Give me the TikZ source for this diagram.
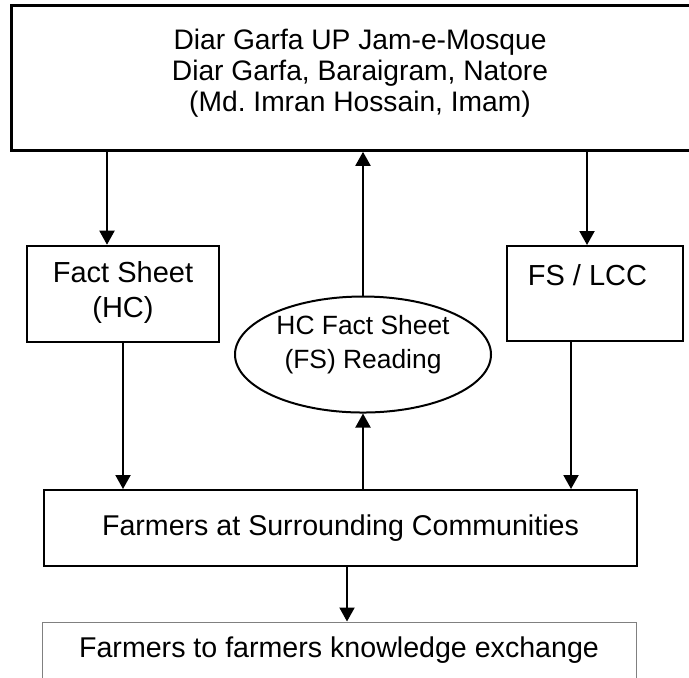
\documentclass[tikz,border=0pt]{standalone}
\usepackage{fontspec}
\setmainfont{Liberation Sans}
\usetikzlibrary{arrows.meta,shapes.geometric}

\tikzset{
  box/.style={draw, line width=1pt, inner sep=0pt},
  txt/.style={font=\fontsize{14.3}{16}\selectfont, align=center},
  oval/.style={draw, ellipse, line width=1pt, inner sep=0pt},
  arr/.style={line width=1pt, -{Triangle[length=7pt,width=7.5pt]}}
}

\begin{document}
\begin{tikzpicture}[x=0.5pt,y=-0.5pt]
  \useasboundingbox (0,0) rectangle (689,677);
  \begin{scope}
  \clip (0,0) rectangle (689,677);
  % top box (right side runs off the page)
  \node[box, line width=1.5pt, minimum width=349pt, minimum height=72.5pt] (mosque) at (360,77.8) {};
  \node[txt, font=\fontsize{14.1}{15.4}\selectfont] (mosquetxt) at (360,73) {Diar Garfa UP Jam-e-Mosque\\Diar Garfa, Baraigram, Natore\\(Md.\ Imran Hossain, Imam)};
  % middle row
  \node[box, minimum width=96pt, minimum height=48pt] (fact) at (123,293.7) {};
  \node[txt, font=\fontsize{14.5}{17.5}\selectfont] (facttxt) at (123,292) {Fact Sheet\\(HC)};
  \node[oval, minimum width=128pt, minimum height=58pt] (reading) at (363,354.5) {};
  \node[txt, font=\fontsize{13.2}{17}\selectfont] (readingtxt) at (363,345) {HC Fact Sheet\\(FS) Reading};
  \node[box, minimum width=88pt, minimum height=47.5pt] (lcc) at (595,293.5) {};
  \node[txt, font=\fontsize{14.5}{16}\selectfont] (lcctxt) at (587.5,275) {FS / LCC};
  % farmers
  \node[box, txt, minimum width=296.5pt, minimum height=38pt] (farmers) at (340.5,528) {Farmers at Surrounding Communities};
  \node[box, draw=gray, line width=0.5pt, minimum width=297pt, minimum height=40pt] (exchange) at (339,662) {};
  \node[txt] (exchangetxt) at (339,650) {Farmers to farmers knowledge exchange};
  \end{scope}
  % arrow ends that are not on the middle of a box
  \coordinate (m1) at ([xshift=-126.5pt]mosque.south);
  \coordinate (m2) at ([xshift=113.5pt]mosque.south);
  \coordinate (l1) at ([xshift=-12pt]lcc.south);
  \coordinate (f1) at ([xshift=3.25pt]farmers.south);
  % connectors
  \draw[arr] (m1) -- (fact.north -| m1);
  \draw[arr] (m2) -- (lcc.north -| m2);
  \draw[arr] (reading.north) -- (mosque.south -| reading.north);
  \draw[arr] (farmers.north -| reading.south) -- (reading.south);
  \draw[arr] (fact.south) -- (farmers.north -| fact.south);
  \draw[arr] (l1) -- (farmers.north -| l1);
  \draw[arr] (f1) -- (exchange.north -| f1);
\end{tikzpicture}
\end{document}
